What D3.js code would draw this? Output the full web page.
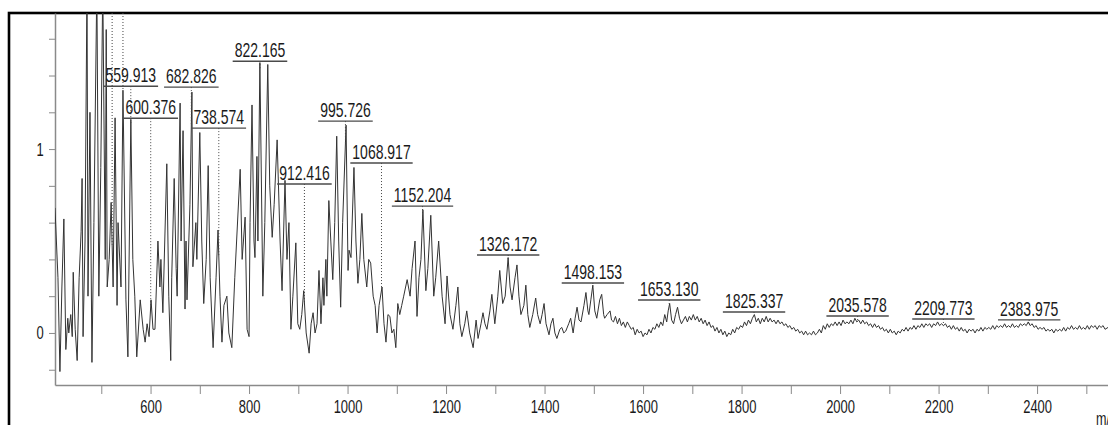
<!DOCTYPE html>
<html>
<head>
<meta charset="utf-8">
<script src="https://cdn.jsdelivr.net/npm/d3@7"></script>
<style>
  body { margin: 0; background: #fff; }
  svg { display: block; }
  text { font-family: "Liberation Sans", Arial, sans-serif; }
</style>
</head>
<body>
<div id="chart"></div>
<script>
// spectrum: [m/z, intensity]
var spectrum = [
  [406,0.68],[412,0.30],[416,-0.21],[420,0.25],[424,0.62],[428,-0.09],[432,0.08],[434,0.00],[438,0.10],[441,-0.02],
  [443,0.33],[447,0.02],[451,-0.15],[455,0.30],[459,0.55],[461,0.84],[463,-0.02],[467,0.50],[471,1.90],[473,0.20],
  [477,1.20],[481,-0.16],[485,0.60],[491,1.90],[495,0.20],[499,0.90],[503,1.90],[508,0.40],[510,1.65],[512,0.25],
  [516,0.40],[520,0.71],[524,0.25],[528,1.17],[532,0.15],[534,0.60],[540,0.25],[544,1.32],[550,0.18],[554,-0.13],
  [560,1.16],[564,0.40],[568,0.20],[572,-0.13],[579,0.18],[585,0.02],[589,-0.05],[593,0.05],[597,-0.02],[601,0.18],
  [605,0.02],[609,0.02],[615,0.50],[619,0.25],[621,0.40],[625,0.11],[633,0.92],[637,0.20],[641,-0.15],[643,0.30],
  [648,0.84],[652,0.35],[654,0.20],[660,1.25],[662,0.50],[666,1.10],[670,0.13],[672,0.50],[674,0.18],[680,0.70],
  [684,1.31],[686,0.36],[692,0.60],[694,0.40],[700,1.09],[704,0.50],[708,0.16],[713,0.40],[717,0.91],[721,0.30],
  [727,-0.08],[733,0.30],[737,0.56],[741,0.20],[745,-0.05],[749,0.15],[755,0.20],[759,0.00],[765,-0.08],[771,0.30],
  [782,0.89],[786,0.40],[792,0.63],[796,0.02],[800,-0.02],[802,0.60],[806,1.24],[810,0.50],[812,0.41],[816,0.96],
  [818,0.50],[822,1.47],[828,0.20],[832,0.60],[838,1.46],[842,0.80],[847,0.52],[851,0.70],[857,1.05],[863,0.50],
  [867,0.23],[873,0.83],[877,0.40],[881,0.60],[885,0.02],[889,0.20],[895,0.49],[899,0.05],[903,0.02],[907,0.10],
  [911,0.23],[916,0.00],[922,-0.11],[926,0.05],[930,0.11],[934,0.00],[938,0.05],[942,0.34],[946,0.05],[950,0.30],
  [952,0.15],[956,0.40],[958,0.20],[962,0.72],[966,0.50],[970,0.29],[974,0.60],[978,1.07],[982,0.50],[986,0.14],
  [990,0.60],[997,1.13],[1001,0.34],[1003,0.45],[1007,0.41],[1013,0.90],[1017,0.50],[1021,0.27],[1025,0.40],[1029,0.65],
  [1033,0.40],[1039,0.25],[1043,0.40],[1047,0.38],[1052,0.20],[1056,0.15],[1060,0.00],[1064,0.15],[1070,0.25],[1074,0.05],
  [1078,-0.05],[1082,0.10],[1086,0.09],[1090,0.00],[1094,0.02],[1098,-0.08],[1102,0.16],[1106,0.10],[1110,0.15],[1114,0.20],
  [1121,0.29],[1127,0.20],[1131,0.35],[1137,0.50],[1141,0.09],[1145,0.30],[1149,0.40],[1153,0.67],[1159,0.23],[1163,0.35],
  [1169,0.64],[1175,0.20],[1179,0.30],[1185,0.50],[1192,0.20],[1198,0.05],[1202,0.31],[1208,0.10],[1214,0.02],[1220,0.15],
  [1224,0.25],[1228,0.05],[1232,-0.02],[1238,0.05],[1242,0.12],[1248,0.00],[1255,-0.08],[1261,0.07],[1265,-0.03],[1271,0.05],
  [1275,0.11],[1279,0.05],[1283,0.02],[1289,0.12],[1293,0.21],[1299,0.05],[1305,0.20],[1309,0.34],[1315,0.16],[1320,0.20],
  [1326,0.41],[1330,0.25],[1334,0.18],[1340,0.30],[1344,0.37],[1348,0.20],[1352,0.10],[1358,0.15],[1362,0.26],[1366,0.10],
  [1370,0.03],[1376,0.10],[1382,0.19],[1386,0.10],[1391,0.05],[1395,0.10],[1399,0.16],[1403,0.05],[1409,-0.01],[1413,0.05],
  [1417,0.08],[1421,0.00],[1425,-0.03],[1431,0.02],[1435,0.03],[1439,0.00],[1443,0.01],[1449,0.05],[1453,0.08],[1458,0.00],
  [1462,0.08],[1466,0.14],[1470,0.07],[1474,0.06],[1480,0.15],[1484,0.22],[1488,0.12],[1490,0.10],[1494,0.18],[1498,0.26],
  [1502,0.12],[1506,0.08],[1512,0.18],[1516,0.21],[1520,0.10],[1522,0.08],[1527,0.10],[1533,0.12],[1536,0.07],
  [1540,0.06],[1544,0.09],[1548,0.05],[1552,0.08],[1556,0.04],[1560,0.06],[1564,0.03],[1568,0.06],[1572,0.04],[1576,0.02],
  [1580,0.03],[1584,-0.01],[1588,0.02],[1592,0.00],[1596,0.01],[1600,-0.02],[1604,0.00],[1608,-0.01],[1612,0.02],[1616,0.00],
  [1620,0.03],[1624,0.02],[1628,0.05],[1632,0.03],[1636,0.06],[1640,0.04],[1644,0.10],[1648,0.06],[1651,0.12],[1654,0.16],
  [1658,0.07],[1662,0.05],[1666,0.10],[1670,0.14],[1674,0.08],[1678,0.05],[1682,0.07],[1686,0.09],[1690,0.06],[1694,0.09],
  [1698,0.07],[1702,0.10],[1706,0.07],[1710,0.09],[1714,0.06],[1718,0.08],[1722,0.05],[1726,0.07],[1730,0.04],[1734,0.06],
  [1738,0.03],[1742,0.04],[1746,0.01],[1750,0.03],[1754,0.00],[1758,0.02],[1762,-0.01],[1766,0.01],[1770,-0.02],[1774,0.00],
  [1778,-0.01],[1782,0.02],[1786,0.00],[1790,0.03],[1794,0.02],[1798,0.04],[1802,0.03],[1806,0.06],[1810,0.04],[1814,0.07],
  [1818,0.05],[1822,0.08],[1826,0.10],[1830,0.06],[1834,0.08],[1838,0.05],[1842,0.08],[1846,0.06],[1850,0.09],[1854,0.06],
  [1858,0.08],[1862,0.06],[1866,0.07],[1870,0.05],[1874,0.07],[1878,0.05],[1882,0.06],[1886,0.04],[1890,0.05],[1894,0.03],
  [1898,0.04],[1902,0.02],[1906,0.03],[1910,0.01],[1914,0.02],[1918,0.00],[1922,0.01],[1926,-0.01],[1930,0.01],[1934,-0.01],
  [1938,0.00],[1942,-0.01],[1946,0.01],[1950,-0.01],[1954,0.00],[1958,0.02],[1962,0.00],[1966,0.04],[1970,0.02],[1974,0.05],
  [1978,0.03],[1982,0.05],[1986,0.04],[1990,0.06],[1994,0.04],[1998,0.06],[2002,0.04],[2006,0.07],[2010,0.05],[2014,0.06],
  [2018,0.05],[2022,0.07],[2026,0.05],[2030,0.08],[2034,0.06],[2038,0.07],[2042,0.05],[2046,0.07],[2050,0.05],[2054,0.06],
  [2058,0.04],[2062,0.05],[2066,0.03],[2070,0.05],[2074,0.03],[2078,0.04],[2082,0.02],[2086,0.03],[2090,0.01],[2094,0.02],
  [2098,0.00],[2102,0.02],[2106,0.00],[2110,0.01],[2114,-0.01],[2118,0.01],[2122,0.00],[2126,0.02],[2130,0.01],[2134,0.03],
  [2138,0.01],[2142,0.03],[2146,0.02],[2150,0.04],[2154,0.02],[2158,0.04],[2162,0.03],[2166,0.05],[2170,0.03],[2174,0.05],
  [2178,0.04],[2182,0.05],[2186,0.03],[2190,0.05],[2194,0.04],[2198,0.06],[2202,0.04],[2206,0.05],[2210,0.04],[2214,0.05],
  [2218,0.03],[2222,0.04],[2226,0.02],[2230,0.04],[2234,0.02],[2238,0.03],[2242,0.01],[2246,0.03],[2250,0.01],[2254,0.02],
  [2258,0.00],[2262,0.02],[2266,0.01],[2270,0.02],[2274,0.00],[2278,0.02],[2282,0.01],[2286,0.03],[2290,0.01],[2294,0.03],
  [2298,0.02],[2302,0.03],[2306,0.02],[2310,0.04],[2314,0.02],[2318,0.04],[2322,0.03],[2326,0.04],[2330,0.03],[2334,0.05],
  [2338,0.03],[2342,0.04],[2346,0.03],[2350,0.05],[2354,0.03],[2358,0.04],[2362,0.03],[2366,0.05],[2370,0.04],[2374,0.05],
  [2378,0.04],[2382,0.06],[2386,0.04],[2390,0.05],[2394,0.03],[2398,0.04],[2402,0.02],[2406,0.03],[2410,0.02],[2414,0.03],
  [2418,0.01],[2422,0.02],[2426,0.01],[2430,0.02],[2434,0.00],[2438,0.02],[2442,0.01],[2446,0.02],[2450,0.01],[2454,0.03],
  [2458,0.01],[2462,0.03],[2466,0.02],[2470,0.04],[2474,0.02],[2478,0.03],[2482,0.02],[2486,0.04],[2490,0.02],[2494,0.03],
  [2498,0.02],[2502,0.04],[2506,0.02],[2510,0.04],[2514,0.03],[2518,0.04],[2522,0.02],[2526,0.04],[2530,0.03],[2534,0.04],
  [2538,0.02],[2544,0.03]
];

// labelled peaks and the intensity level their label sits at
var peakMz = [559.913, 682.826, 600.376, 738.574, 822.165, 912.416, 995.726, 1068.917,
              1152.204, 1326.172, 1498.153, 1653.130, 1825.337, 2035.578, 2209.773, 2383.975];
var peakLabelLevel = [1.342, 1.337, 1.168, 1.114, 1.478, 0.810, 1.152, 0.924,
                      0.690, 0.424, 0.272, 0.179, 0.114, 0.092, 0.076, 0.071];
// labelled peaks whose labels are above the visible range
var offscaleMz = [522, 544];

var xMajor = [600, 800, 1000, 1200, 1400, 1600, 1800, 2000, 2200, 2400];
var xMinor = [500, 700, 900, 1100, 1300, 1500, 1700, 1900, 2100, 2300, 2500];
var yMajor = [0, 1];
var yMinor = [-0.2, 0.2, 0.4, 0.6, 0.8, 1.2, 1.4, 1.6];

var W = 1108, H = 425;
var SQ = 0.7; // the original text is squeezed horizontally

var svg = d3.select("#chart").append("svg").attr("width", W).attr("height", H);

var x = d3.scaleLinear().domain([406, 2544]).range([55, 1108]);
var y = d3.scaleLinear().domain([-0.283, 1.74]).range([385, 13]);

// outer frame
svg.append("rect")
  .attr("x", 9).attr("y", 13)
  .attr("width", W + 20).attr("height", H + 20)
  .attr("fill", "none").attr("stroke", "#000").attr("stroke-width", 2.6);

svg.append("clipPath").attr("id", "plot")
  .append("rect").attr("x", 55).attr("y", 13).attr("width", W - 55).attr("height", 372);

// axes
function styleAxis(g) {
  g.selectAll(".domain").attr("stroke", "#8a8a8a").attr("stroke-width", 1.5);
  g.selectAll(".tick line").attr("stroke", "#8a8a8a").attr("stroke-width", 1);
  g.selectAll(".tick text")
    .attr("fill", "#1a1a1a")
    .style("font-size", "18.5px")
    .attr("transform", "scale(" + SQ + ",1)");
}

var gxMinor = svg.append("g").attr("transform", "translate(0,385)")
  .call(d3.axisBottom(x).tickValues(xMinor).tickSize(9).tickSizeOuter(0).tickFormat(""));
gxMinor.select(".domain").remove();
styleAxis(gxMinor);

var gx = svg.append("g").attr("transform", "translate(0,385)")
  .call(d3.axisBottom(x).tickValues(xMajor).tickSize(9).tickSizeOuter(0).tickPadding(6)
    .tickFormat(d3.format("d")));
styleAxis(gx);

var gyMinor = svg.append("g").attr("transform", "translate(55,0)")
  .call(d3.axisLeft(y).tickValues(yMinor).tickSize(6).tickSizeOuter(0).tickFormat(""));
gyMinor.select(".domain").remove();
styleAxis(gyMinor);

var gy = svg.append("g").attr("transform", "translate(55,0)")
  .call(d3.axisLeft(y).tickValues(yMajor).tickSize(6).tickSizeOuter(0).tickPadding(10)
    .tickFormat(d3.format("d")));
styleAxis(gy);

svg.append("text")
  .attr("transform", "translate(1096,425) scale(" + SQ + ",1)")
  .style("font-size", "18px").attr("fill", "#1a1a1a")
  .text("m/z");

// spectrum trace
var line = d3.line().x(function(d) { return x(d[0]); }).y(function(d) { return y(d[1]); });
svg.append("path")
  .datum(spectrum)
  .attr("clip-path", "url(#plot)")
  .attr("fill", "none")
  .attr("stroke", "#333")
  .attr("stroke-width", 1)
  .attr("stroke-linejoin", "round")
  .attr("d", line);

// intensity of the trace at a given m/z (for the dotted leaders)
var bis = d3.bisector(function(d) { return d[0]; }).left;
function traceAt(m) {
  var i = bis(spectrum, m);
  if (i <= 0) return spectrum[0][1];
  if (i >= spectrum.length) return spectrum[spectrum.length - 1][1];
  var a = spectrum[i - 1], b = spectrum[i];
  return a[1] + (b[1] - a[1]) * (m - a[0]) / (b[0] - a[0]);
}

var marks = svg.append("g").attr("clip-path", "url(#plot)");

offscaleMz.forEach(function(m) {
  marks.append("line")
    .attr("x1", x(m)).attr("x2", x(m))
    .attr("y1", y.range()[1]).attr("y2", y(traceAt(m)))
    .attr("stroke", "#444").attr("stroke-width", 1).attr("stroke-dasharray", "1,2");
});

var fmt = d3.format(".3f");
peakMz.forEach(function(m, i) {
  var cx = x(m), ly = y(peakLabelLevel[i]);
  var ty = y(traceAt(m));
  if (ty > ly + 2) {
    marks.append("line")
      .attr("x1", cx).attr("x2", cx)
      .attr("y1", ly).attr("y2", ty)
      .attr("stroke", "#444").attr("stroke-width", 1).attr("stroke-dasharray", "1,2");
  }
  var t = svg.append("text")
    .attr("transform", "translate(" + cx + "," + (ly - 4) + ") scale(" + SQ + ",1)")
    .attr("text-anchor", "middle")
    .style("font-size", "20px")
    .attr("fill", "#1a1a1a")
    .text(fmt(m));
  var w = t.node().getComputedTextLength() * SQ + 4;
  svg.append("line")
    .attr("x1", cx - w / 2).attr("x2", cx + w / 2)
    .attr("y1", ly).attr("y2", ly)
    .attr("stroke", "#4a4a4a").attr("stroke-width", 1.4);
});
</script>
</body>
</html>
